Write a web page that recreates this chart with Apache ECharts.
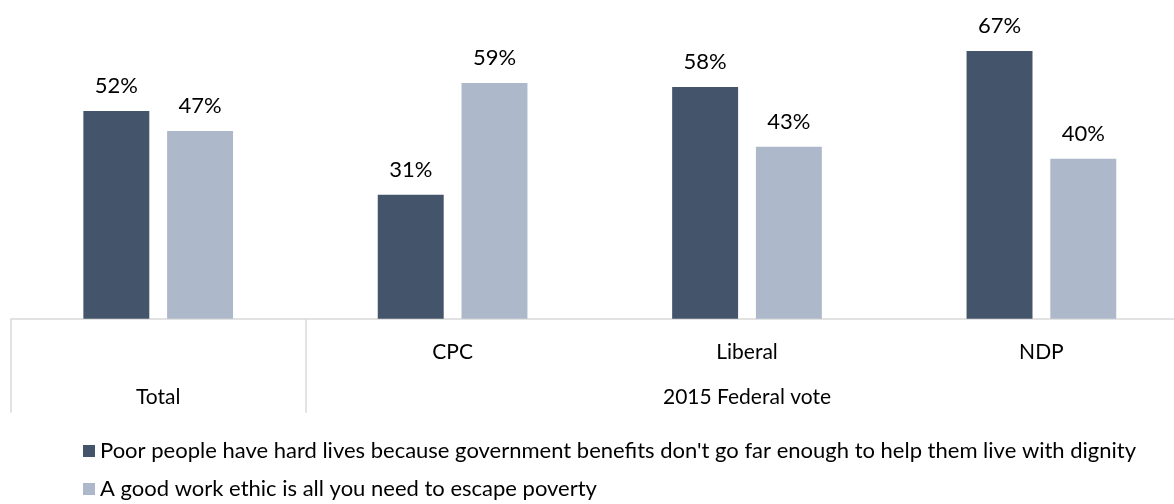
<!DOCTYPE html>
<html><head><meta charset="utf-8">
<script src="https://cdn.jsdelivr.net/npm/echarts@6/dist/echarts.min.js"></script>
<style>html,body{margin:0;padding:0;background:#fff}#c{width:1174px;height:504px}</style>
</head><body><div id="c"></div>
<script>
var categories = ['Total', 'CPC', 'Liberal', 'NDP'];
var level1Labels = ['', 'CPC', 'Liberal', 'NDP'];
var level2Labels = ['Total', '', '2015 Federal vote', ''];
var seriesNames = ["Poor people have hard lives because government benefits don't go far enough to help them live with dignity", 'A good work ethic is all you need to escape poverty'];
var poorValues = [52, 31, 58, 67];
var workValues = [47, 59, 43, 40];

var FONT = 'Lato, "Open Sans", sans-serif';
var chart = echarts.init(document.getElementById('c'));
chart.setOption({
  animation: false,
  textStyle: { fontFamily: FONT },
  grid: { left: 11, top: -1, width: 1177.6, height: 319.7, containLabel: false, outerBoundsMode: 'none' },
  legend: {
    orient: 'vertical', left: 78, top: 435, height: 120, itemWidth: 12, itemHeight: 12, itemGap: 16,
    icon: 'rect',
    textStyle: { fontFamily: FONT, fontSize: 22, color: '#000' },
    data: seriesNames
  },
  xAxis: [{
    type: 'category', data: categories, position: 'bottom',
    axisLine: { show: true, lineStyle: { color: '#d9d9d9', width: 1.5 } },
    axisTick: { show: false },
    axisLabel: { interval: 0, margin: 23, fontSize: 21, color: '#000', fontFamily: FONT,
      formatter: function (v, i) { return level1Labels[i]; } }
  }, {
    type: 'category', data: categories, position: 'bottom', offset: 0,
    axisLine: { show: false },
    axisTick: { show: true, length: 94, lineStyle: { color: '#d9d9d9', width: 1.5 },
      interval: function (i) { return i <= 1; } },
    axisLabel: { interval: 0, margin: 68, fontSize: 21, color: '#000', fontFamily: FONT,
      formatter: function (v, i) { return level2Labels[i]; } }
  }],
  yAxis: { type: 'value', min: 0, max: 80, show: false, splitLine: { show: false } },
  series: [{
    name: seriesNames[0], type: 'bar', data: poorValues, barWidth: '22.4%', barGap: '27%',
    itemStyle: { color: '#44546a' },
    label: { show: true, position: 'top', distance: 14, fontSize: 22, color: '#000', fontFamily: FONT,
      formatter: '{c}%' }
  }, {
    name: seriesNames[1], type: 'bar', data: workValues, barWidth: '22.4%', barGap: '27%',
    itemStyle: { color: '#adb9ca' },
    label: { show: true, position: 'top', distance: 14, fontSize: 22, color: '#000', fontFamily: FONT,
      formatter: '{c}%' }
  }]
});
</script></body></html>
